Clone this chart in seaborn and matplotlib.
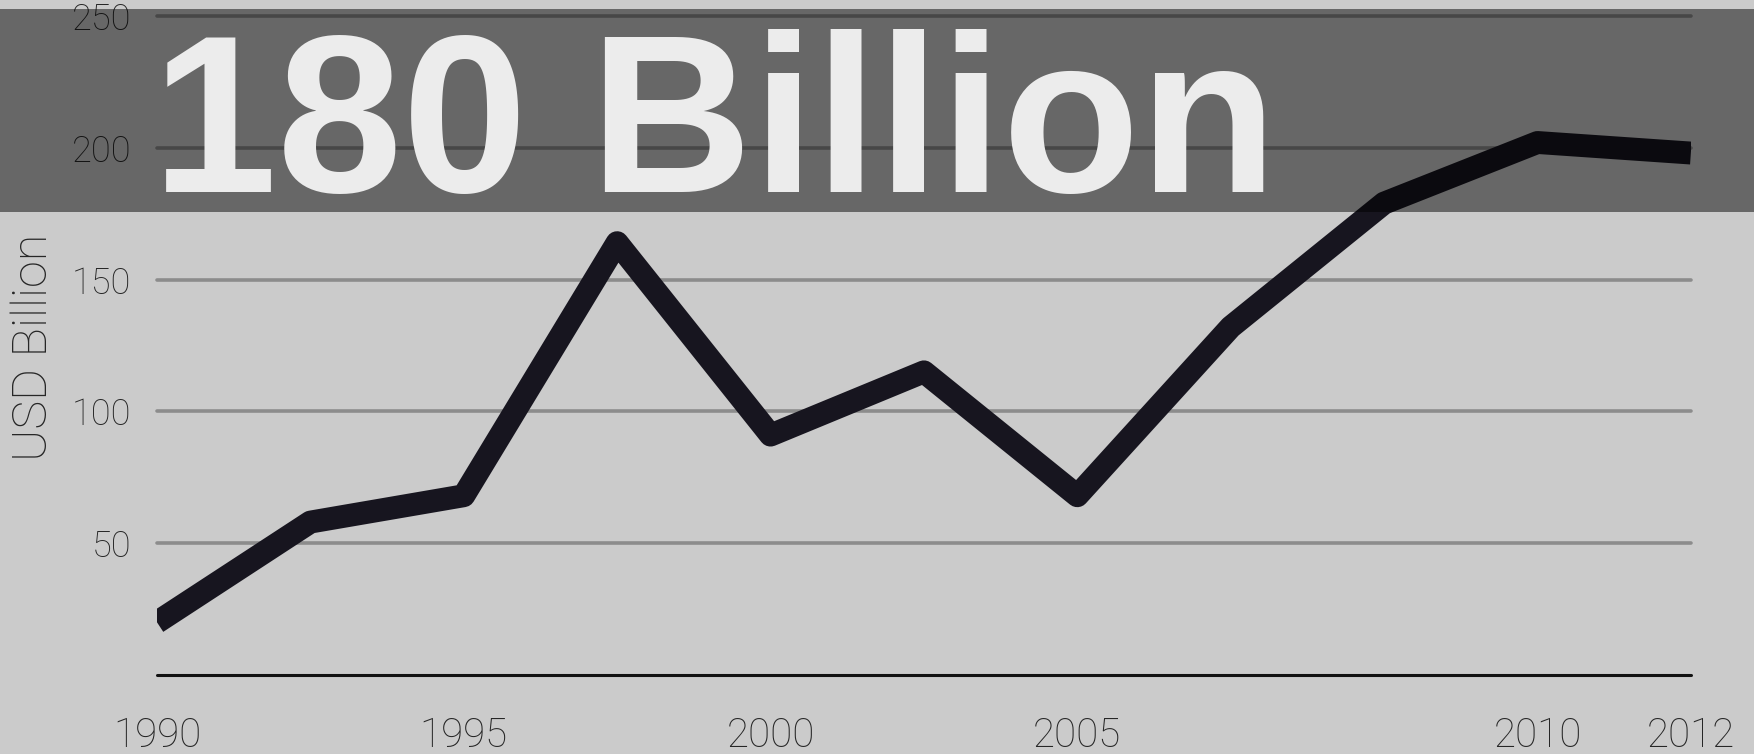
import matplotlib
matplotlib.use("Agg")
import matplotlib.pyplot as plt
from matplotlib.patches import Rectangle
import seaborn as sns
import pandas as pd

# Evenly spaced observation points; only some of them carry a year label
point_index = [0, 1, 2, 3, 4, 5, 6, 7, 8, 9, 10]
usd_billion = [20, 58, 68, 164, 91, 115, 68, 132, 179, 202, 198]
year_tick_index = [0, 2, 4, 6, 9, 10]
year_tick_labels = ["1990", "1995", "2000", "2005", "2010", "2012"]
y_ticks = [50, 100, 150, 200, 250]
headline = "180 Billion"
axis_title = "USD Billion"

sns.set_style("white")
plt.rcParams["font.family"] = ["Roboto", "DejaVu Sans"]

BG = "#cbcbcb"
TXT = "#262626"

fig = plt.figure(figsize=(17.54, 7.54), dpi=100, facecolor=BG)
ax = fig.add_axes([0.0895, 0.1048, 0.8745, 0.8915])
ax.set_facecolor(BG)

df = pd.DataFrame({"point": point_index, "value": usd_billion})

# horizontal guides and the zero baseline
for v in y_ticks:
    ax.axhline(v, color="#8c8c8c", lw=2.6, zorder=1, clip_on=False)
ax.axhline(0, color="#111111", lw=2.2, zorder=1, clip_on=False)

sns.lineplot(data=df, x="point", y="value", ax=ax, color="#17151f",
             linewidth=16.5, zorder=3)
line = ax.lines[-1]
line.set_solid_capstyle("butt")
line.set_solid_joinstyle("round")

ax.set_xlim(0, 10)
ax.set_ylim(0, 255)
ax.set_xticks(year_tick_index, year_tick_labels)
ax.set_yticks(y_ticks)
ax.tick_params(axis="x", length=0, pad=30, labelsize=29, labelcolor=TXT)
ax.tick_params(axis="y", length=0, pad=18.7, labelsize=26, labelcolor=TXT)
for t in ax.get_xticklabels() + ax.get_yticklabels():
    t.set_fontweight("light")
ax.grid(False)
sns.despine(ax=ax, left=True, bottom=True, top=True, right=True)
ax.set_xlabel("")
ax.set_ylabel("")

fig.text(34 / 1754, 1 - 347 / 754, axis_title, rotation=90, ha="center",
         va="center", fontsize=35, color=TXT, fontweight="light")

# dark translucent banner across the top with the headline figure
fig.patches.append(Rectangle((0, 0.7188), 1, 0.2692, transform=fig.transFigure,
                             facecolor="black", alpha=0.49, edgecolor="none",
                             zorder=5))
fig.text(152 / 1754, 1 - 192 / 754, headline,
         family=["Liberation Sans", "DejaVu Sans"], fontsize=162,
         fontweight="bold", color="#ececec", ha="left", va="baseline",
         zorder=6)

fig.savefig("out.png", dpi=100, facecolor=BG)
